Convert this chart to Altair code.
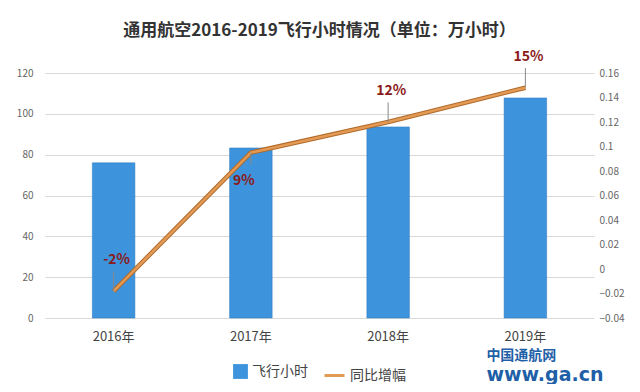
import altair as alt
import pandas as pd

years = ["2016年", "2017年", "2018年", "2019年"]
hours = [76, 83.3, 93.6, 107.8]
growth = [-0.018, 0.095, 0.12, 0.148]
labels = ["-2%", "9%", "12%", "15%"]
label_below = [False, True, False, False]
left_ticks = [0, 20, 40, 60, 80, 100, 120]
right_ticks = [-0.04, -0.02, 0, 0.02, 0.04, 0.06, 0.08, 0.1, 0.12, 0.14, 0.16]

df = pd.DataFrame({"year": years, "hours": hours, "growth": growth,
                   "label": labels, "below": label_below,
                   "s1": ["飞行小时"] * 4, "s2": ["同比增幅"] * 4})

FONT = "Noto Sans CJK SC"
BLUE = "#3d94dc"
ORANGE = "#e39a55"
RED = "#8b1a1a"

x = alt.X("year:N", sort=years, title=None,
          scale=alt.Scale(paddingInner=0.69, paddingOuter=0.345),
          axis=alt.Axis(labelAngle=0, labelFontSize=13, labelColor="#444",
                        domain=False, ticks=False, labelPadding=12, labelFont=FONT))

bars = alt.Chart(df).mark_bar(
    color=alt.Gradient(gradient="linear",
                       stops=[alt.GradientStop(color="#62b0ea", offset=0),
                              alt.GradientStop(color="#3389d4", offset=1)],
                       x1=0, x2=1, y1=0, y2=0),
    stroke="#2a78c0", strokeWidth=0.5
).encode(
    x=x,
    y=alt.Y("hours:Q", title=None,
            scale=alt.Scale(domain=[0, 120]),
            axis=alt.Axis(values=left_ticks, grid=True, gridColor="#d9d9d9",
                          domain=False, ticks=False, labelFontSize=10,
                          labelColor="#666", labelPadding=12, labelFont=FONT)),
    fill=alt.Fill("s1:N", title=None,
                  scale=alt.Scale(domain=["飞行小时"], range=[BLUE]),
                  legend=alt.Legend(orient="none", legendX=188, legendY=291,
                                    symbolType="square", symbolSize=220,
                                    labelFontSize=14, labelColor="#444",
                                    labelFont=FONT, symbolStrokeWidth=0))
)

yr = alt.Y("growth:Q", title=None,
           scale=alt.Scale(domain=[-0.04, 0.16]),
           axis=alt.Axis(orient="right", values=right_ticks, format="~g",
                         grid=False, domain=False, ticks=False, labelFontSize=10,
                         labelColor="#666", labelPadding=5, labelFont=FONT))

line_shadow = alt.Chart(df).mark_line(color="#b06a2a", strokeWidth=4.5).encode(
    x=x, y=yr)
line = alt.Chart(df).mark_line(strokeWidth=2.5).encode(
    x=x, y=yr,
    stroke=alt.Stroke("s2:N", title=None,
                      scale=alt.Scale(domain=["同比增幅"], range=[ORANGE]),
                      legend=alt.Legend(orient="none", legendX=278, legendY=291,
                                        symbolType="stroke", symbolStrokeWidth=3,
                                        symbolSize=400,
                                        labelFontSize=14, labelColor="#444",
                                        labelFont=FONT))
)

leader_up = alt.Chart(df).transform_filter("!datum.below").transform_calculate(
    y2="datum.growth + 0.016").mark_rule(color="#888", strokeWidth=1).encode(
    x=x, y=yr, y2="y2:Q")
leader_down = alt.Chart(df).transform_filter("datum.below").transform_calculate(
    y2="datum.growth - 0.01").mark_rule(color="#888", strokeWidth=1).encode(
    x=x, y=yr, y2="y2:Q")

text_up = alt.Chart(df).transform_filter("!datum.below").mark_text(
    dy=-31, dx=3, fontSize=14, fontWeight="bold", color=RED, font=FONT
).encode(x=x, y=yr, text="label:N")
text_down = alt.Chart(df).transform_filter("datum.below").mark_text(
    dy=28, dx=-7, fontSize=14, fontWeight="bold", color=RED, font=FONT
).encode(x=x, y=yr, text="label:N")

wm1 = alt.Chart(df).transform_filter("datum.year == '2019年'").mark_text(
    text="中国通航网", fontSize=14, fontWeight="bold", color="#1f5fa8",
    font=FONT, align="left", dx=-39).encode(x=x, y=alt.value(283))
wm2 = alt.Chart(df).transform_filter("datum.year == '2019年'").mark_text(
    text="www.ga.cn", fontSize=19, fontWeight="bold", color="#1f5fa8",
    font="DejaVu Sans", align="left", baseline="alphabetic", dx=-39
).encode(x=x, y=alt.value(308))

left = alt.layer(bars)
right = alt.layer(line_shadow, line, leader_up, leader_down, text_up, text_down)

chart = alt.layer(left, right, wm1, wm2).resolve_scale(
    y="independent", fill="independent", stroke="independent"
).properties(
    width=549, height=245,
    autosize=alt.AutoSizeParams(type="none"),
    padding={"left": 37, "top": 65, "right": 38, "bottom": 66},
    title=alt.Title("通用航空2016-2019飞行小时情况（单位：万小时）",
                    fontSize=17, fontWeight="bold", color="#333", font=FONT,
                    offset=10, anchor="middle")
).configure_view(stroke=None)

chart.save("out.html", embed_options={"renderer": "svg", "actions": False})
